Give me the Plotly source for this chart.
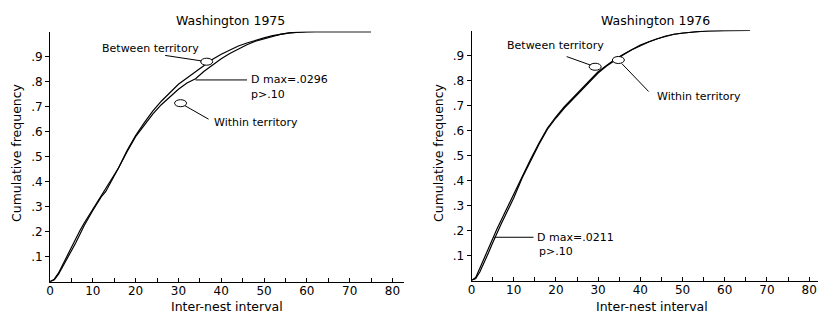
import plotly.graph_objects as go

# ---------------- data ----------------
x_1975 = [0, 1, 2, 3, 4, 5, 6, 7, 8, 10, 12, 13, 14, 16, 18, 20, 22, 24, 26, 28,
          30, 32, 34, 36, 38, 40, 42, 44, 46, 48, 50, 52, 54, 56, 58, 60, 62, 66, 70, 75]
between_1975 = [0, .01, .035, .07, .105, .14, .175, .205, .235, .29, .345, .37, .395, .455, .525,
                .585, .635, .682, .722, .757, .79, .815, .84, .865, .89, .91, .928, .943, .955, .966,
                .975, .984, .99, .995, .998, 1, 1, 1, 1, 1]
within_1975 = [0, .008, .03, .06, .09, .12, .155, .19, .225, .285, .34, .36, .39, .455, .52,
               .58, .625, .67, .708, .74, .77, .795, .812, .842, .868, .892, .913, .932, .948, .962,
               .972, .982, .99, .995, .998, 1, 1, 1, 1, 1]

x_1976 = [0, 1, 2, 3, 4, 5, 6, 7, 8, 10, 12, 14, 16, 18, 20, 22, 24, 26, 28, 30, 32, 34,
          36, 38, 40, 42, 44, 46, 48, 50, 53, 56, 60, 66]
between_1976 = [0, .012, .05, .09, .13, .17, .205, .24, .275, .345, .42, .485, .55, .61, .655,
                .695, .73, .765, .80, .835, .86, .885, .905, .925, .942, .955, .968, .978, .985,
                .99, .995, .998, 1, 1]
within_1976 = [0, .008, .035, .07, .11, .15, .19, .225, .26, .33, .41, .48, .545, .605, .65,
               .69, .725, .76, .795, .83, .858, .882, .903, .923, .94, .954, .967, .977, .985,
               .99, .995, .998, 1, 1]

x_tickvals = list(range(0, 85, 5))
x_ticktext = [str(v) if v % 10 == 0 else "" for v in x_tickvals]
y_tickvals = [.1, .2, .3, .4, .5, .6, .7, .8, .9]
y_ticktext = [".1", ".2", ".3", ".4", ".5", ".6", ".7", ".8", ".9"]

panel_titles = ["Washington 1975", "Washington 1976"]
x_title = "Inter-nest interval"
y_title = "Cumulative frequency"
dmax_texts = ["D max=.0296", "D max=.0211"]
p_text = "p>.10"

FONT = "DejaVu Sans"
LINE = dict(color="black", width=1.2)

W, H = 820, 320


def fx(X):
    return X / W


def fy(Y):
    return 1 - Y / H


fig = go.Figure()
fig.add_trace(go.Scatter(x=x_1975, y=between_1975, mode="lines", line=LINE, xaxis="x", yaxis="y",
                         showlegend=False, name="Between territory"))
fig.add_trace(go.Scatter(x=x_1975, y=within_1975, mode="lines", line=LINE, xaxis="x", yaxis="y",
                         showlegend=False, name="Within territory"))
fig.add_trace(go.Scatter(x=x_1976, y=between_1976, mode="lines", line=LINE, xaxis="x2", yaxis="y2",
                         showlegend=False, name="Between territory"))
fig.add_trace(go.Scatter(x=x_1976, y=within_1976, mode="lines", line=LINE, xaxis="x2", yaxis="y2",
                         showlegend=False, name="Within territory"))

xax = dict(range=[0, 82.7], showline=True, linecolor="black", linewidth=1, showgrid=False,
           zeroline=False, ticks="inside", ticklen=4, tickcolor="black", ticklabelstandoff=-2,
           tickvals=x_tickvals, ticktext=x_ticktext, tickfont=dict(family=FONT, size=12, color="black"))
yax = dict(range=[0, 1.0], showline=True, linecolor="black", linewidth=1, showgrid=False,
           zeroline=False, ticks="outside", ticklen=4, tickcolor="black",
           tickvals=y_tickvals, ticktext=y_ticktext, tickfont=dict(family=FONT, size=12, color="black"))

fig.update_layout(
    width=W, height=H, margin=dict(l=0, r=0, t=0, b=0, autoexpand=False),
    paper_bgcolor="white", plot_bgcolor="white",
    xaxis=dict(xax, domain=[fx(50), fx(404)], anchor="y"),
    yaxis=dict(yax, domain=[fy(281.7), fy(31.7)], anchor="x"),
    xaxis2=dict(xax, range=[0, 82.1], domain=[fx(471.5), fx(818)], anchor="y2"),
    yaxis2=dict(yax, domain=[fy(280.5), fy(30.5)], anchor="x2"),
)

ann = []
tf = dict(family=FONT, size=12.5, color="black")
lf = dict(family=FONT, size=11, color="black")
# titles
for xc, t in zip((230, 655), panel_titles):
    ann.append(dict(text=t, x=fx(xc), y=fy(20), xref="paper", yref="paper",
                    xanchor="center", yanchor="middle", showarrow=False, font=tf))
for xc in (227, 652):
    ann.append(dict(text=x_title, x=fx(xc), y=fy(306), xref="paper", yref="paper",
                    xanchor="center", yanchor="middle", showarrow=False, font=tf))
for xc in (16, 438):
    ann.append(dict(text=y_title, x=fx(xc), y=fy(153), xref="paper", yref="paper",
                    xanchor="center", yanchor="middle", showarrow=False, textangle=-90, font=tf))


def label_ellipse(xr, yr, px, py, text, tail, txt_shift, anchor):
    fig.add_shape(type="circle", xref=xr, yref=yr, xsizemode="pixel", ysizemode="pixel",
                  xanchor=px, yanchor=py, x0=-6, x1=6, y0=-3.5, y1=3.5,
                  line=dict(color="black", width=1), fillcolor="white", layer="above")
    ann.append(dict(text="", x=px, y=py, xref=xr, yref=yr, showarrow=True, arrowhead=0,
                    arrowwidth=1, arrowcolor="black", ax=tail[0], ay=tail[1], standoff=5))
    ann.append(dict(text=text, x=px, y=py, xref=xr, yref=yr, showarrow=False, font=lf,
                    xanchor=anchor, yanchor="middle", xshift=txt_shift[0], yshift=txt_shift[1]))


def label_dmax(xr, yr, px, py, text, tail_dx, txt_dx, p_dx, p_dy):
    ann.append(dict(text="", x=px, y=py, xref=xr, yref=yr, showarrow=True, arrowhead=0,
                    arrowwidth=1, arrowcolor="black", ax=tail_dx, ay=0, standoff=0))
    ann.append(dict(text=text, x=px, y=py, xref=xr, yref=yr, showarrow=False, font=lf,
                    xanchor="left", yanchor="middle", xshift=txt_dx, yshift=0))
    ann.append(dict(text=p_text, x=px, y=py, xref=xr, yref=yr, showarrow=False, font=lf,
                    xanchor="left", yanchor="middle", xshift=p_dx, yshift=p_dy))


# 1975
label_ellipse("x", "y", 36.6, .88, "Between territory", (-43, -6.5), (-56, 13.5), "center")
label_ellipse("x", "y", 30.5, .714, "Within territory", (29.5, 16.8), (31, -19.5), "left")
label_dmax("x", "y", 34.0, .807, dmax_texts[0], 53, 53, 53, -15)
# 1976
label_ellipse("x2", "y2", 29.3, .855, "Between territory", (-30, -10.7), (-40, 21.7), "center")
label_ellipse("x2", "y2", 34.8, .882, "Within territory", (31.7, 33), (37, -36.7), "left")
label_dmax("x2", "y2", 5.4, .173, dmax_texts[1], 40.7, 41, 43, -14.5)

fig.update_layout(annotations=ann, hovermode=False)
# remove the browser's default 8px page margin so the figure fills the window exactly
fig.write_html("out.html", config={"displayModeBar": False},
               post_script="document.body.style.margin='0px';")
